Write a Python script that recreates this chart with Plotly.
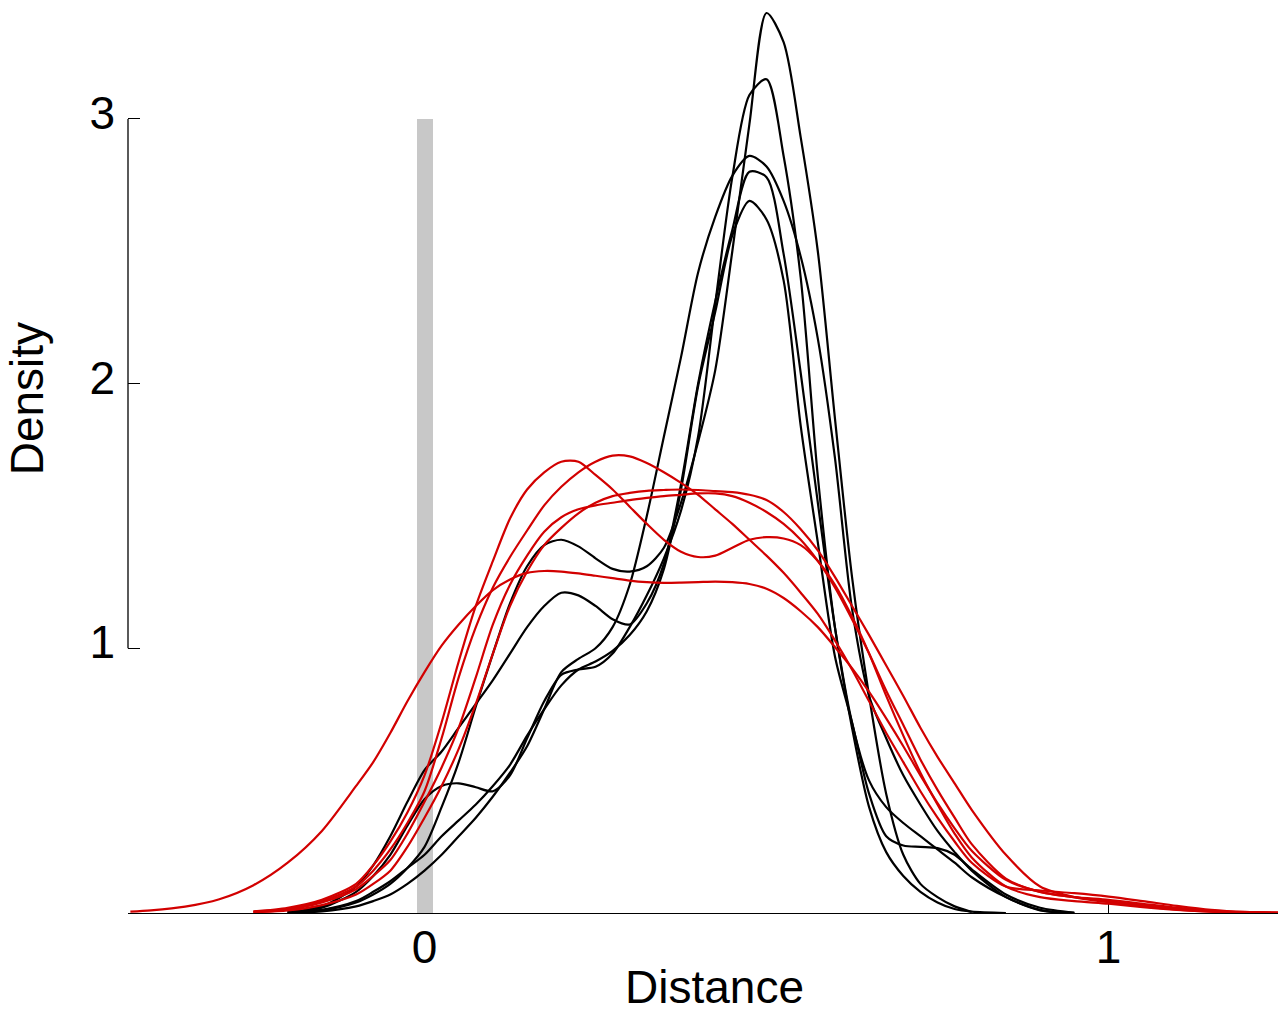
import plotly.graph_objects as go

N = None

# Shared x grid (Distance)
X = [-0.43, -0.40, -0.35, -0.30, -0.25, -0.20, -0.15, -0.10, -0.075, -0.05, -0.025,
     0.000, 0.025, 0.050, 0.075, 0.100, 0.125, 0.150, 0.175, 0.200, 0.225, 0.250, 0.275,
     0.300, 0.325, 0.350, 0.375, 0.400,
     0.425, 0.450, 0.475, 0.500, 0.525, 0.550, 0.575, 0.600, 0.625, 0.650, 0.675, 0.700,
     0.725, 0.750, 0.775, 0.800,
     0.85, 0.90, 0.95, 1.00, 1.05, 1.10, 1.15, 1.20, 1.25]

# Black density curves
BLACK_A = [N, N, N, N, N, 0.002, 0.01, 0.04, 0.07, 0.11, 0.17,
           0.25, 0.40, 0.57, 0.78, 0.98, 1.17, 1.31, 1.39, 1.41, 1.385, 1.34, 1.30, 1.29, 1.31, 1.38, 1.55, 1.78,
           2.05, 2.50, 2.98, 3.40, 3.29, 2.93, 2.50, 1.87, 1.27, 0.82, 0.45, 0.22, 0.11, 0.06, 0.025, 0.004,
           N, N, N, N, N, N, N, N, N]
BLACK_B = [N, N, N, N, N, 0.003, 0.02, 0.08, 0.14, 0.22, 0.33,
           0.43, 0.48, 0.49, 0.475, 0.46, 0.52, 0.66, 0.80, 0.90, 0.92, 0.93, 0.98, 1.08, 1.20, 1.34, 1.52, 1.80,
           2.30, 2.78, 3.09, 3.15, 2.86, 2.40, 1.65, 1.08, 0.70, 0.40, 0.23, 0.14, 0.08, 0.04, 0.015, 0.005,
           0.0, N, N, N, N, N, N, N, N]
BLACK_C = [N, N, N, N, N, 0.001, 0.006, 0.025, 0.045, 0.07, 0.11,
           0.16, 0.22, 0.29, 0.36, 0.44, 0.53, 0.63, 0.77, 0.91, 0.96, 1.0, 1.08, 1.24, 1.50, 1.80, 2.10, 2.42,
           2.63, 2.785, 2.86, 2.82, 2.69, 2.48, 2.17, 1.72, 1.15, 0.82, 0.66, 0.52, 0.41, 0.31, 0.23, 0.16,
           0.06, 0.012, 0.0, N, N, N, N, N, N]
BLACK_D = [N, N, N, N, N, 0.003, 0.025, 0.10, 0.18, 0.29, 0.42,
           0.54, 0.61, 0.70, 0.79, 0.88, 0.98, 1.08, 1.16, 1.21, 1.20, 1.16, 1.11, 1.09, 1.17, 1.32, 1.62, 2.0,
           2.31, 2.58, 2.80, 2.78, 2.49, 2.04, 1.55, 1.08, 0.72, 0.50, 0.40, 0.34, 0.29, 0.24, 0.19, 0.135,
           0.06, 0.01, 0.0, N, N, N, N, N, N]
BLACK_E = [N, N, N, N, N, 0.002, 0.012, 0.045, 0.08, 0.12, 0.17,
           0.22, 0.29, 0.35, 0.41, 0.48, 0.56, 0.67, 0.77, 0.86, 0.92, 0.95, 0.99, 1.05, 1.14, 1.30, 1.60, 1.99,
           2.27, 2.56, 2.69, 2.62, 2.39, 1.84, 1.40, 0.97, 0.72, 0.45, 0.29, 0.255, 0.25, 0.245, 0.22, 0.165,
           0.07, 0.02, 0.002, N, N, N, N, N, N]

# Red density curves
RED_WIDE = [0.005, 0.010, 0.024, 0.052, 0.105, 0.19, 0.31, 0.48, 0.57, 0.68, 0.80,
            0.91, 1.01, 1.09, 1.16, 1.22, 1.26, 1.285, 1.292, 1.29, 1.283, 1.274, 1.265, 1.256, 1.25, 1.247, 1.248, 1.25,
            1.252, 1.25, 1.243, 1.225, 1.19, 1.14, 1.08, 1.005, 0.925, 0.835, 0.735, 0.63, 0.52, 0.415, 0.32, 0.235,
            0.125, 0.08, 0.06, 0.045, 0.03, 0.016, 0.007, 0.002, 0.0005]
RED_1 = [N, N, N, N, 0.006, 0.02, 0.05, 0.11, 0.18, 0.27, 0.38,
         0.52, 0.72, 0.95, 1.16, 1.33, 1.49, 1.60, 1.665, 1.705, 1.705, 1.655, 1.60, 1.535, 1.47, 1.41, 1.365, 1.345,
         1.35, 1.38, 1.41, 1.42, 1.415, 1.39, 1.33, 1.24, 1.12, 0.98, 0.82, 0.67, 0.53, 0.41, 0.30, 0.21,
         0.10, 0.06, 0.045, 0.035, 0.022, 0.012, 0.005, 0.0015, 0.0]
RED_2 = [N, N, N, N, 0.005, 0.016, 0.045, 0.10, 0.16, 0.24, 0.34,
         0.46, 0.66, 0.89, 1.08, 1.23, 1.345, 1.445, 1.54, 1.61, 1.665, 1.705, 1.728, 1.725, 1.70, 1.665, 1.625, 1.58,
         1.525, 1.47, 1.41, 1.35, 1.285, 1.21, 1.13, 1.03, 0.92, 0.80, 0.68, 0.57, 0.46, 0.36, 0.27, 0.19,
         0.10, 0.085, 0.075, 0.062, 0.045, 0.027, 0.012, 0.004, 0.001]
RED_3 = [N, N, N, N, 0.003, 0.01, 0.03, 0.07, 0.11, 0.16, 0.25,
         0.36, 0.48, 0.62, 0.79, 0.98, 1.16, 1.29, 1.39, 1.455, 1.51, 1.55, 1.575, 1.587, 1.595, 1.598, 1.60, 1.598,
         1.594, 1.59, 1.58, 1.56, 1.515, 1.45, 1.37, 1.27, 1.16, 1.05, 0.935, 0.82, 0.70, 0.59, 0.49, 0.39,
         0.22, 0.10, 0.06, 0.04, 0.025, 0.013, 0.005, 0.002, 0.0]
RED_4 = [N, N, N, N, 0.004, 0.013, 0.04, 0.09, 0.14, 0.20, 0.30,
         0.42, 0.55, 0.70, 0.89, 1.09, 1.24, 1.35, 1.44, 1.495, 1.525, 1.54, 1.55, 1.56, 1.568, 1.575, 1.58, 1.585,
         1.585, 1.575, 1.55, 1.515, 1.47, 1.41, 1.33, 1.23, 1.11, 0.98, 0.84, 0.71, 0.58, 0.465, 0.36, 0.26,
         0.13, 0.08, 0.06, 0.05, 0.035, 0.02, 0.008, 0.003, 0.001]

BLACK_SERIES = [BLACK_A, BLACK_B, BLACK_C, BLACK_D, BLACK_E]
RED_SERIES = [RED_WIDE, RED_1, RED_2, RED_3, RED_4]
for s in BLACK_SERIES + RED_SERIES:
    assert len(s) == len(X), len(s)

# Reference band at zero distance
BAND_X = [0]
BAND_TOP = [3]

X_TICKS = [0, 1]
X_TICK_TEXT = ["0", "1"]
Y_TICKS = [1, 2, 3]
Y_TICK_TEXT = ["1", "2", "3"]

FONT = "Liberation Sans, Arial, Helvetica, sans-serif"
RED = "#d20000"

fig = go.Figure()
fig.add_trace(go.Bar(x=BAND_X, y=BAND_TOP, width=0.0234,
                     marker=dict(color="#c8c8c8", line=dict(width=0)),
                     hoverinfo="skip", showlegend=False))
for s in BLACK_SERIES:
    fig.add_trace(go.Scatter(x=X, y=s, mode="lines", line=dict(color="black", width=2.2, shape="spline", smoothing=0.8),
                             connectgaps=False, showlegend=False, hoverinfo="skip"))
for s in RED_SERIES:
    fig.add_trace(go.Scatter(x=X, y=s, mode="lines", line=dict(color=RED, width=2.2, shape="spline", smoothing=0.8),
                             connectgaps=False, showlegend=False, hoverinfo="skip"))

# partial y-axis line spanning the tick range
fig.add_shape(type="line", xref="paper", yref="y", x0=0, x1=0, y0=Y_TICKS[0], y1=Y_TICKS[-1],
              line=dict(color="black", width=1.3))

fig.add_annotation(text="Distance", xref="paper", yref="paper", x=0.51, y=-0.081,
                   xanchor="center", yanchor="middle", showarrow=False,
                   font=dict(family=FONT, size=46, color="black"))
fig.add_annotation(text="Density", xref="paper", yref="paper", x=-0.088, y=0.5635,
                   xanchor="center", yanchor="middle", textangle=-90, showarrow=False,
                   font=dict(family=FONT, size=46, color="black"))

fig.update_layout(
    width=1278, height=1012,
    margin=dict(l=128, r=0, t=0, b=99, pad=0),
    paper_bgcolor="white", plot_bgcolor="white",
    showlegend=False,
    font=dict(family=FONT, size=46, color="black"),
    bargap=0,
    xaxis=dict(range=[-0.4335, 1.2478], showgrid=False, zeroline=False, showline=True,
               linecolor="black", linewidth=1.3, ticks="inside", ticklen=12, tickwidth=1.2,
               tickcolor="black", tickvals=X_TICKS, ticktext=X_TICK_TEXT, ticklabelstandoff=-6,
               tickfont=dict(family=FONT, size=46, color="black"), layer="below traces"),
    yaxis=dict(range=[0, 3.4492], showgrid=False, zeroline=False, showline=False,
               ticks="inside", ticklen=12, tickwidth=1.2, tickcolor="black",
               tickvals=Y_TICKS, ticktext=Y_TICK_TEXT, ticklabelshift=-6, ticklabelstandoff=12,
               tickfont=dict(family=FONT, size=46, color="black"), layer="below traces"),
)

fig.write_html("out.html", config={"displayModeBar": False},
               post_script="document.body.style.margin='0px';document.body.style.overflow='hidden';")
